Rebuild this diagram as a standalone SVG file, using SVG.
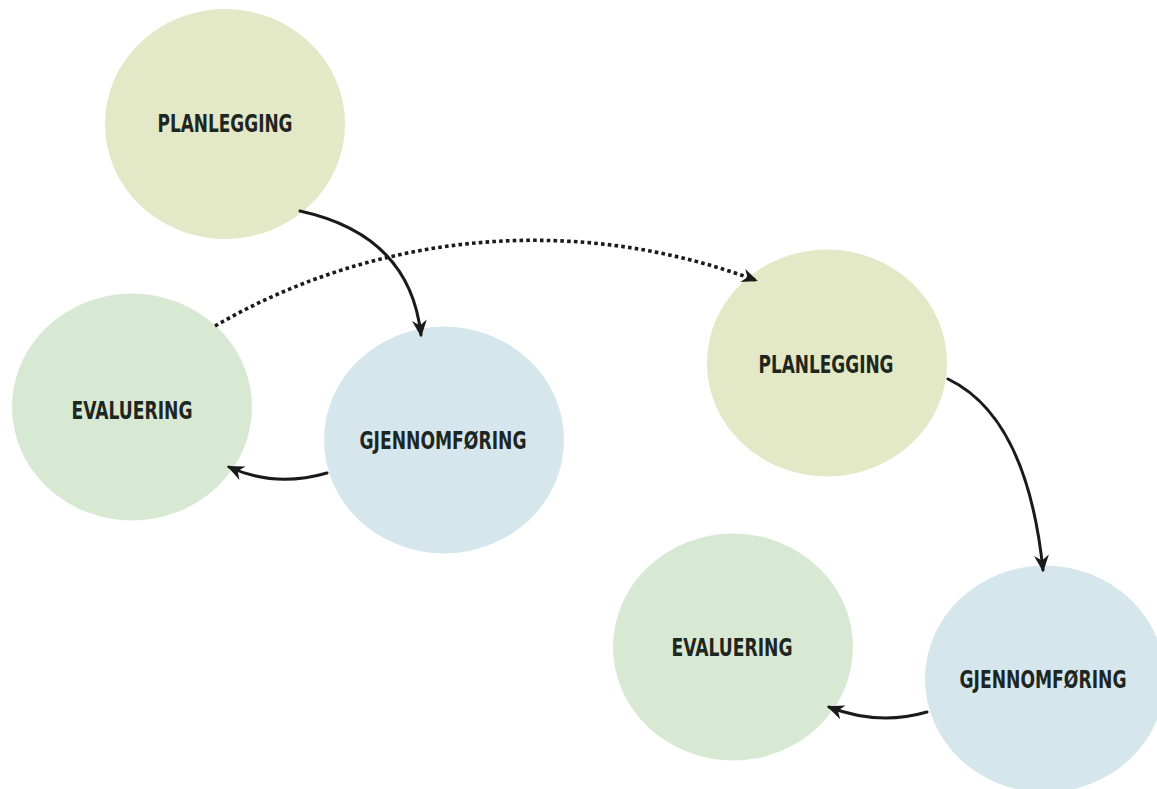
<svg xmlns="http://www.w3.org/2000/svg" width="1157" height="789" viewBox="0 0 1157 789">
  <style>
    .plan { fill: #e3e8c6; }
    .eval { fill: #d8e9d3; }
    .gjen { fill: #d5e6ec; }
    .label { font-family: "DejaVu Sans Condensed", "DejaVu Sans", "Liberation Sans", sans-serif; font-stretch: condensed; font-weight: bold; font-size: 25.5px; fill: #1e2621; text-anchor: middle; }
    .solid { fill: none; stroke: #1a1a1a; stroke-width: 3; stroke-linecap: round; }
    .dotted { fill: none; stroke: #1a1a1a; stroke-width: 3.6; stroke-dasharray: 3.6 3.2; }
  </style>
  <defs>
    <marker id="head" viewBox="0 0 16 14" refX="14" refY="7" markerWidth="17" markerHeight="15" markerUnits="userSpaceOnUse" orient="auto">
      <path d="M0,0 L16,7 L0,14 L5,7 z" fill="#1a1a1a"/>
    </marker>
    <marker id="headDotted" viewBox="0 0 16 14" refX="13" refY="7" markerWidth="18" markerHeight="14" markerUnits="userSpaceOnUse" orient="auto">
      <path d="M0,0 L16,7 L0,14 L5,7 z" fill="#1a1a1a"/>
    </marker>
  </defs>

  <rect width="1157" height="789" fill="#ffffff"/>

  <!-- first cycle -->
  <g id="planlegging-1">
    <ellipse class="plan" cx="225" cy="124" rx="120" ry="115"/>
    <text class="label" x="225" y="132" textLength="135" lengthAdjust="spacingAndGlyphs">PLANLEGGING</text>
  </g>
  <g id="evaluering-1">
    <ellipse class="eval" cx="132" cy="407" rx="120" ry="113.5"/>
    <text class="label" x="132" y="419" textLength="121" lengthAdjust="spacingAndGlyphs">EVALUERING</text>
  </g>
  <g id="gjennomforing-1">
    <ellipse class="gjen" cx="444" cy="440" rx="120" ry="113.5"/>
    <text class="label" x="443" y="449" textLength="167" lengthAdjust="spacingAndGlyphs">GJENNOMFØRING</text>
  </g>

  <!-- second cycle -->
  <g id="planlegging-2">
    <ellipse class="plan" cx="827" cy="363" rx="120" ry="113.5"/>
    <text class="label" x="826" y="373" textLength="135" lengthAdjust="spacingAndGlyphs">PLANLEGGING</text>
  </g>
  <g id="evaluering-2">
    <ellipse class="eval" cx="733" cy="647" rx="120" ry="113.5"/>
    <text class="label" x="732" y="656" textLength="121" lengthAdjust="spacingAndGlyphs">EVALUERING</text>
  </g>
  <g id="gjennomforing-2">
    <ellipse class="gjen" cx="1045" cy="679" rx="120" ry="113.5"/>
    <text class="label" x="1043" y="688" textLength="167" lengthAdjust="spacingAndGlyphs">GJENNOMFØRING</text>
  </g>

  <!-- connectors -->
  <g id="connectors">
    <path class="dotted" d="M215,326 A636,636 0 0 1 755,280" marker-end="url(#headDotted)"/>
    <path class="solid" d="M300,211 Q410,235 421,335" marker-end="url(#head)"/>
    <path class="solid" d="M327,473 Q275,488 229,467" marker-end="url(#head)"/>
    <path class="solid" d="M948,379 Q1027,417 1043,570" marker-end="url(#head)"/>
    <path class="solid" d="M927,712 Q878,726 829,707" marker-end="url(#head)"/>
  </g>
</svg>
